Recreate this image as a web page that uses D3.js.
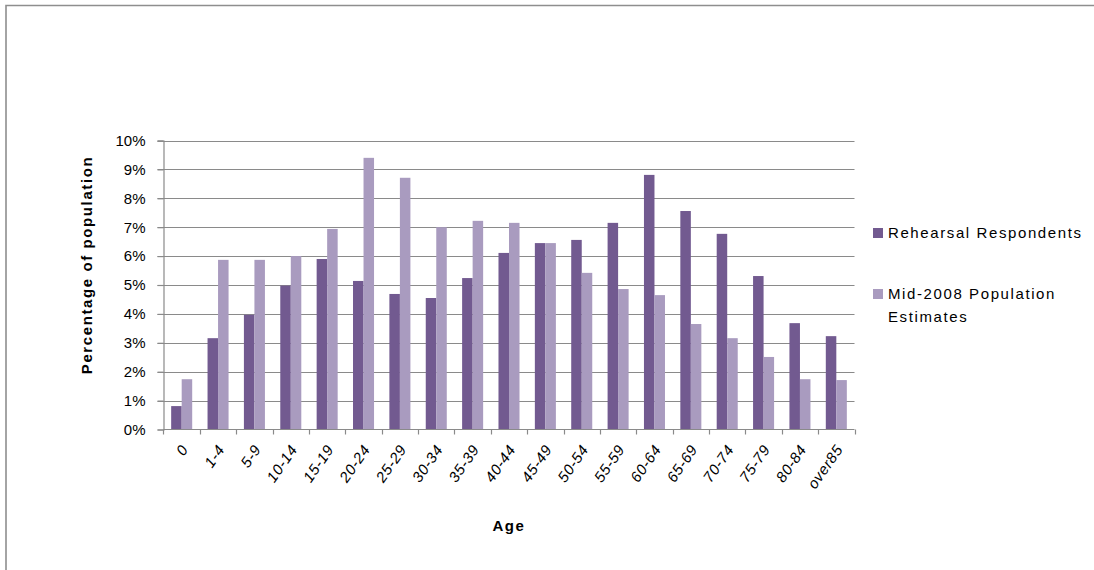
<!DOCTYPE html>
<html>
<head>
<meta charset="utf-8">
<script src="https://cdn.jsdelivr.net/npm/d3@7"></script>
<style>
  html, body { margin: 0; padding: 0; background: #fff; }
  svg { display: block; }
  text { font-family: "Liberation Sans", Arial, sans-serif; fill: #000; }
</style>
</head>
<body>
<svg id="chart" width="1094" height="570"></svg>
<script>
// Age bands and the share of each population in every band
const ageGroups = ["0", "1-4", "5-9", "10-14", "15-19", "20-24", "25-29", "30-34", "35-39",
  "40-44", "45-49", "50-54", "55-59", "60-64", "65-69", "70-74", "75-79", "80-84", "over85"];
const rehearsalRespondents = [0.81, 3.16, 3.97, 4.98, 5.90, 5.14, 4.69, 4.55, 5.24,
  6.11, 6.45, 6.56, 7.15, 8.81, 7.56, 6.77, 5.31, 3.68, 3.23];
const mid2008Estimates = [1.74, 5.87, 5.87, 6.00, 6.94, 9.40, 8.71, 7.00, 7.22,
  7.15, 6.45, 5.42, 4.86, 4.65, 3.65, 3.16, 2.51, 1.74, 1.71];
const seriesNames = ["Rehearsal Respondents", "Mid-2008 Population Estimates"];
const seriesColors = ["#725a90", "#a99bbf"];
const yTicks = [0, 1, 2, 3, 4, 5, 6, 7, 8, 9, 10];

const svg = d3.select("#chart");

// outer chart frame (only its top and left edges fall inside the view)
svg.append("path")
  .attr("d", "M6,570 V5.5 H1094")
  .attr("fill", "none")
  .attr("stroke", "#8e8e8e")
  .attr("stroke-width", 1.6);

const plot = { left: 163.5, right: 854.5, top: 140.5, bottom: 429.5 };

const x = d3.scaleBand().domain(ageGroups).range([plot.left, plot.right]).padding(0);
const xs = d3.scaleBand().domain([0, 1]).range([0, x.bandwidth()])
  .paddingInner(0).paddingOuter(0.73);
const y = d3.scaleLinear().domain([0, 10]).range([plot.bottom, plot.top]);

// horizontal gridlines
svg.append("g")
  .selectAll("line")
  .data(yTicks.filter(t => t > 0))
  .join("line")
  .attr("x1", plot.left - 6)
  .attr("x2", plot.right)
  .attr("y1", d => Math.round(y(d)) + 0.5)
  .attr("y2", d => Math.round(y(d)) + 0.5)
  .attr("stroke", "#8a8a8a")
  .attr("stroke-width", 1.2);

// bars
const rows = ageGroups.map((g, i) => ({ group: g, values: [rehearsalRespondents[i], mid2008Estimates[i]] }));
svg.append("g")
  .selectAll("g")
  .data(rows)
  .join("g")
  .attr("transform", d => `translate(${x(d.group)},0)`)
  .selectAll("rect")
  .data(d => d.values.map((v, k) => ({ v, k })))
  .join("rect")
  .attr("x", d => xs(d.k))
  .attr("width", xs.bandwidth())
  .attr("y", d => y(d.v))
  .attr("height", d => y(0) - y(d.v))
  .attr("fill", d => seriesColors[d.k]);

// y axis
const yAxis = d3.axisLeft(y).tickValues(yTicks).tickFormat(d => d + "%").tickSize(6).tickPadding(12);
const gy = svg.append("g").attr("transform", `translate(${plot.left},0)`).call(yAxis);
gy.select(".domain").attr("stroke", "#8a8a8a").attr("stroke-width", 1.2);
gy.selectAll(".tick line").attr("stroke", "#8a8a8a").attr("stroke-width", 1.2);
gy.selectAll(".tick text")
  .style("font-family", '"Liberation Sans", Arial, sans-serif')
  .style("font-size", "15px")
  .attr("fill", "#000");

// x axis: ticks sit on the band edges
const edges = ageGroups.map(g => x(g)).concat([plot.right]);
const gx = svg.append("g");
gx.append("line")
  .attr("x1", plot.left).attr("x2", plot.right)
  .attr("y1", plot.bottom).attr("y2", plot.bottom)
  .attr("stroke", "#8a8a8a").attr("stroke-width", 1.2);
gx.selectAll("line.tk")
  .data(edges)
  .join("line")
  .attr("class", "tk")
  .attr("x1", d => Math.round(d) + 0.5).attr("x2", d => Math.round(d) + 0.5)
  .attr("y1", plot.bottom).attr("y2", plot.bottom + 5)
  .attr("stroke", "#8a8a8a").attr("stroke-width", 1.2);
gx.selectAll("text")
  .data(ageGroups)
  .join("text")
  .attr("transform", d => `translate(${x(d) + x.bandwidth() / 2 + 3},${plot.bottom + 17}) rotate(-55)`)
  .attr("text-anchor", "end")
  .attr("dy", "0.35em")
  .style("font-size", "15px")
  .style("font-style", "italic")
  .style("letter-spacing", "0.6px")
  .text(d => d);

// axis titles
svg.append("text")
  .attr("transform", `translate(92,265) rotate(-90)`)
  .attr("text-anchor", "middle")
  .style("font-size", "15px")
  .style("font-weight", "bold")
  .style("letter-spacing", "1.6px")
  .text("Percentage of population");

svg.append("text")
  .attr("x", (plot.left + plot.right) / 2)
  .attr("y", 531)
  .attr("text-anchor", "middle")
  .style("font-size", "15px")
  .style("font-weight", "bold")
  .style("letter-spacing", "1.6px")
  .text("Age");

// legend
const legend = svg.append("g");
const legendItems = [
  { lines: ["Rehearsal Respondents"], y: 238 },
  { lines: ["Mid-2008 Population", "Estimates"], y: 299 }
];
legendItems.forEach((item, k) => {
  legend.append("rect")
    .attr("x", 873).attr("y", item.y - 10)
    .attr("width", 10).attr("height", 10)
    .attr("fill", seriesColors[k]);
  const t = legend.append("text")
    .attr("x", 888).attr("y", item.y)
    .style("font-size", "15px")
    .style("letter-spacing", "1.6px");
  item.lines.forEach((ln, j) => {
    t.append("tspan").attr("x", 888).attr("dy", j === 0 ? 0 : 22.5).text(ln);
  });
});
</script>
</body>
</html>
